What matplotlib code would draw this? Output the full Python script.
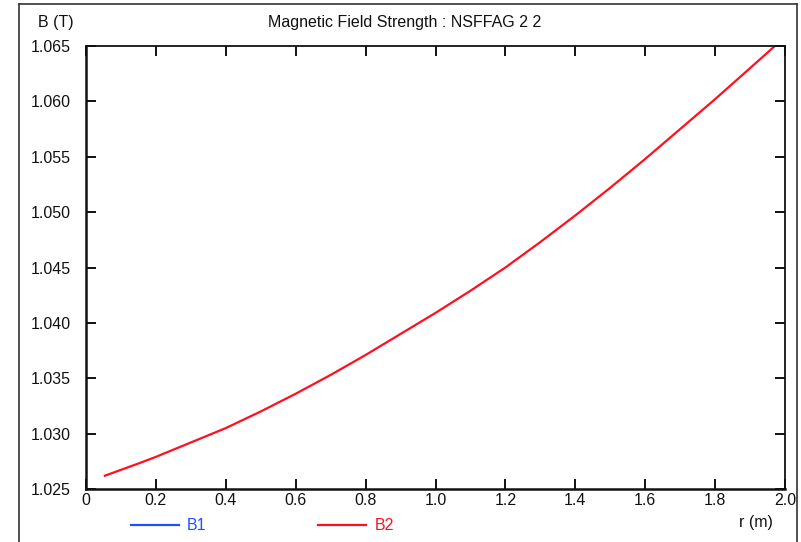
import matplotlib
matplotlib.use("Agg")
import matplotlib.pyplot as plt
from matplotlib.lines import Line2D

plt.rcParams['font.family'] = ['Liberation Sans', 'DejaVu Sans']

# Data
r_vals = [0.054, 0.155, 0.2, 0.3, 0.4, 0.5, 0.6, 0.7, 0.8, 0.9, 1.0, 1.1, 1.2, 1.3,
          1.4, 1.5, 1.6, 1.7, 1.8, 1.9, 1.971]
b2_vals = [1.0262, 1.02736, 1.0279, 1.0292, 1.0305, 1.0320, 1.0336, 1.0353, 1.0371, 1.0390,
           1.0409, 1.0429, 1.0450, 1.0473, 1.0497, 1.0522, 1.0548, 1.0575, 1.0602, 1.0630,
           1.0650]
x_ticks = [0, 0.2, 0.4, 0.6, 0.8, 1.0, 1.2, 1.4, 1.6, 1.8, 2.0]
x_labels = ['0', '0.2', '0.4', '0.6', '0.8', '1.0', '1.2', '1.4', '1.6', '1.8', '2.0']
y_ticks = [1.025, 1.030, 1.035, 1.040, 1.045, 1.050, 1.055, 1.060, 1.065]
y_labels = ['1.025', '1.030', '1.035', '1.040', '1.045', '1.050', '1.055', '1.060', '1.065']
series_names = ['B1', 'B2']
series_colors = ['#1f4fff', '#ff1020']

W, H = 801, 542
fig = plt.figure(figsize=(W / 100, H / 100), dpi=100)
ax = fig.add_axes([86 / W, 1 - 489 / H, (785 - 86) / W, (489 - 46) / H])

ax.plot(r_vals, b2_vals, color=series_colors[1], lw=1.6)

ax.set_xlim(0, 2.0)
ax.set_ylim(1.025, 1.065)
ax.set_xticks(x_ticks)
ax.set_xticklabels(x_labels)
ax.set_yticks(y_ticks)
ax.set_yticklabels(y_labels)
ax.tick_params(direction='in', length=7, width=1.4, top=True, right=True,
               labelsize=11.5, colors='#111111')
ax.tick_params(axis='y', pad=11)
ax.tick_params(axis='x', pad=3)
for s in ['left', 'bottom']:
    ax.spines[s].set_linewidth(1.8)
for s in ['top', 'right']:
    ax.spines[s].set_linewidth(1.3)
for s in ax.spines.values():
    s.set_color('#111111')

# outer frame
fig.add_artist(Line2D([19 / W, 19 / W], [0, 1 - 4 / H], transform=fig.transFigure, color='#333333', lw=1.2))
fig.add_artist(Line2D([797 / W, 797 / W], [0, 1 - 4 / H], transform=fig.transFigure, color='#333333', lw=1.2))
fig.add_artist(Line2D([19 / W, 797 / W], [1 - 4 / H, 1 - 4 / H], transform=fig.transFigure, color='#333333', lw=1.2))

fig.text(405 / W, 1 - 22 / H, 'Magnetic Field Strength : NSFFAG 2 2', ha='center', va='center',
         fontsize=11.5, color='#111111')
fig.text(56 / W, 1 - 22 / H, 'B (T)', ha='center', va='center', fontsize=11.5, color='#111111')
fig.text(756 / W, 1 - 522 / H, 'r (m)', ha='center', va='center', fontsize=11.5, color='#111111')

# legend
leg_x = [(131, 179, 187), (318, 366, 375)]
for (x0, x1, xt), name, col in zip(leg_x, series_names, series_colors):
    fig.add_artist(Line2D([x0 / W, x1 / W], [1 - 525 / H, 1 - 525 / H], transform=fig.transFigure,
                          color=col, lw=1.6))
    fig.text(xt / W, 1 - 525 / H, name, ha='left', va='center', fontsize=11.5, color=col)

fig.savefig('out.png', dpi=100)
